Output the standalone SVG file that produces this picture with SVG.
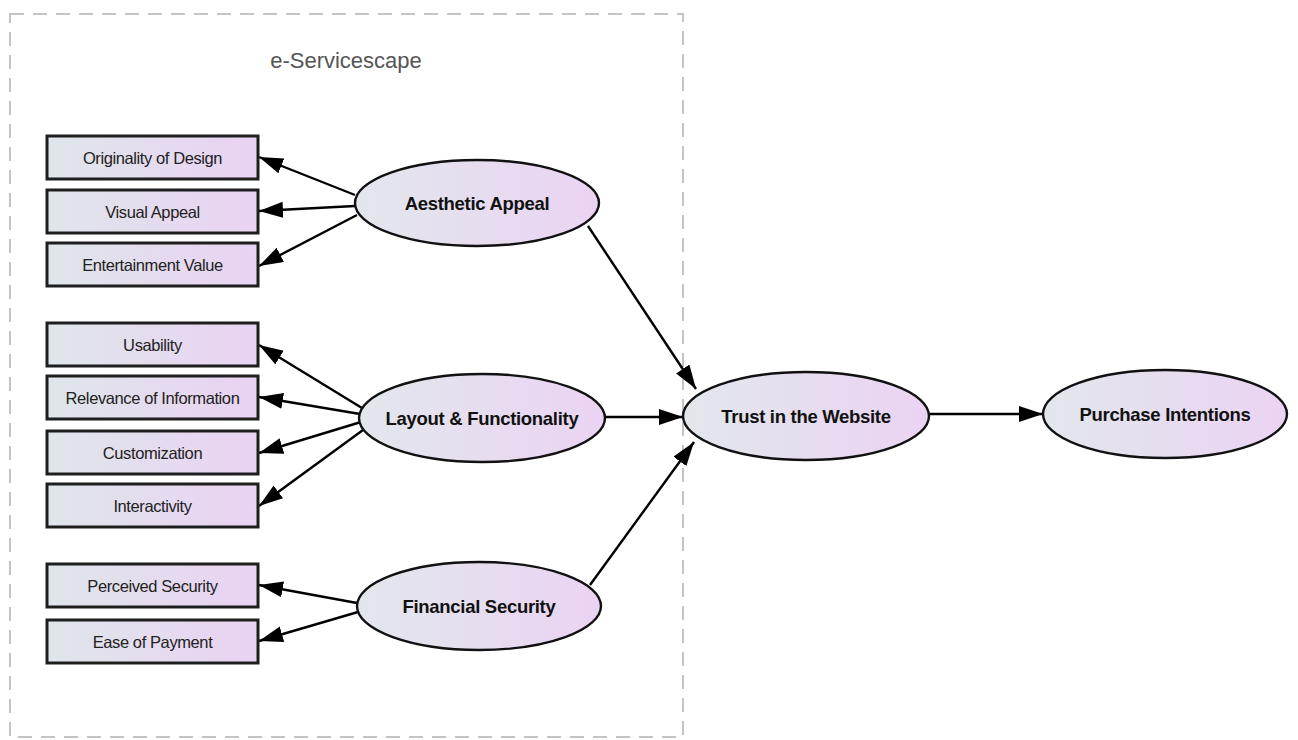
<svg xmlns="http://www.w3.org/2000/svg" width="1298" height="740" viewBox="0 0 1298 740">
<style>
.box{stroke:#1e1e1e;stroke-width:3;fill:url(#g)}
.ell{stroke:#111;stroke-width:2.4;fill:url(#g2)}
.bt{font-family:"Liberation Sans",Arial,sans-serif;font-size:16.5px;letter-spacing:-0.4px;fill:#222;text-anchor:middle}
.et{font-family:"Liberation Sans",Arial,sans-serif;font-size:18.5px;letter-spacing:-0.3px;font-weight:bold;fill:#111;text-anchor:middle}
.c{stroke:#000;stroke-width:2.4;fill:none;marker-end:url(#ah)}
</style>
<defs>
<linearGradient id="g" x1="0" y1="0" x2="1" y2="0">
<stop offset="0" stop-color="#dfe6ea"/><stop offset="1" stop-color="#ead2f3"/>
</linearGradient>
<linearGradient id="g2" x1="0" y1="0" x2="1" y2="0">
<stop offset="0" stop-color="#e2e7ec"/><stop offset="1" stop-color="#ebd3f3"/>
</linearGradient>
<marker id="ah" markerUnits="userSpaceOnUse" markerWidth="26" markerHeight="18" refX="24" refY="8" orient="auto">
<path d="M0,0 L24,8 L0,16 z" fill="#000"/>
</marker>
</defs>
<rect width="1298" height="740" fill="#fff"/>
<rect id="frame" x="10" y="14" width="673" height="723" fill="none" stroke="#c4c4c4" stroke-width="2" stroke-dasharray="14 9"/>
<text x="346" y="68" font-family="'Liberation Sans',Arial,sans-serif" font-size="22" fill="#555" text-anchor="middle">e-Servicescape</text>

<g id="connectors">
<line class="c" x1="355" y1="195" x2="259" y2="157"/>
<line class="c" x1="355" y1="206" x2="259" y2="211"/>
<line class="c" x1="357" y1="215" x2="259" y2="266"/>
<line class="c" x1="362" y1="408" x2="259" y2="345"/>
<line class="c" x1="360" y1="414" x2="259" y2="397"/>
<line class="c" x1="361" y1="422" x2="259" y2="453"/>
<line class="c" x1="363" y1="430" x2="259" y2="506"/>
<line class="c" x1="357" y1="603" x2="259" y2="585"/>
<line class="c" x1="358" y1="612" x2="259" y2="641"/>
<line class="c" x1="588" y1="226" x2="696" y2="389"/>
<line class="c" x1="606" y1="417" x2="683" y2="417"/>
<line class="c" x1="590" y1="585" x2="694" y2="442"/>
<line class="c" x1="930" y1="414" x2="1043" y2="414"/>
</g>

<g id="n-originality"><rect class="box" x="47" y="136" width="211" height="43"/><text class="bt" x="152.5" y="163.5">Originality of Design</text></g>
<g id="n-visual"><rect class="box" x="47" y="190" width="211" height="43"/><text class="bt" x="152.5" y="217.5">Visual Appeal</text></g>
<g id="n-entertainment"><rect class="box" x="47" y="243" width="211" height="43"/><text class="bt" x="152.5" y="270.5">Entertainment Value</text></g>
<g id="n-usability"><rect class="box" x="47" y="323" width="211" height="43"/><text class="bt" x="152.5" y="350.5">Usability</text></g>
<g id="n-relevance"><rect class="box" x="47" y="376" width="211" height="43"/><text class="bt" x="152.5" y="403.5">Relevance of Information</text></g>
<g id="n-customization"><rect class="box" x="47" y="431" width="211" height="43"/><text class="bt" x="152.5" y="458.5">Customization</text></g>
<g id="n-interactivity"><rect class="box" x="47" y="484" width="211" height="43"/><text class="bt" x="152.5" y="511.5">Interactivity</text></g>
<g id="n-perceived"><rect class="box" x="47" y="564" width="211" height="43"/><text class="bt" x="152.5" y="591.5">Perceived Security</text></g>
<g id="n-ease"><rect class="box" x="47" y="620" width="211" height="43"/><text class="bt" x="152.5" y="647.5">Ease of Payment</text></g>

<g id="n-aesthetic"><ellipse class="ell" cx="477" cy="203" rx="122" ry="43"/><text class="et" x="477" y="209.5">Aesthetic Appeal</text></g>
<g id="n-layout"><ellipse class="ell" cx="482" cy="418" rx="123" ry="44"/><text class="et" x="482" y="424.5">Layout &amp; Functionality</text></g>
<g id="n-financial"><ellipse class="ell" cx="479" cy="606" rx="122" ry="44"/><text class="et" x="479" y="612.5">Financial Security</text></g>
<g id="n-trust"><ellipse class="ell" cx="806" cy="416" rx="123" ry="44"/><text class="et" x="806" y="422.5">Trust in the Website</text></g>
<g id="n-purchase"><ellipse class="ell" cx="1165" cy="414" rx="122" ry="44"/><text class="et" x="1165" y="420.5">Purchase Intentions</text></g>
</svg>
